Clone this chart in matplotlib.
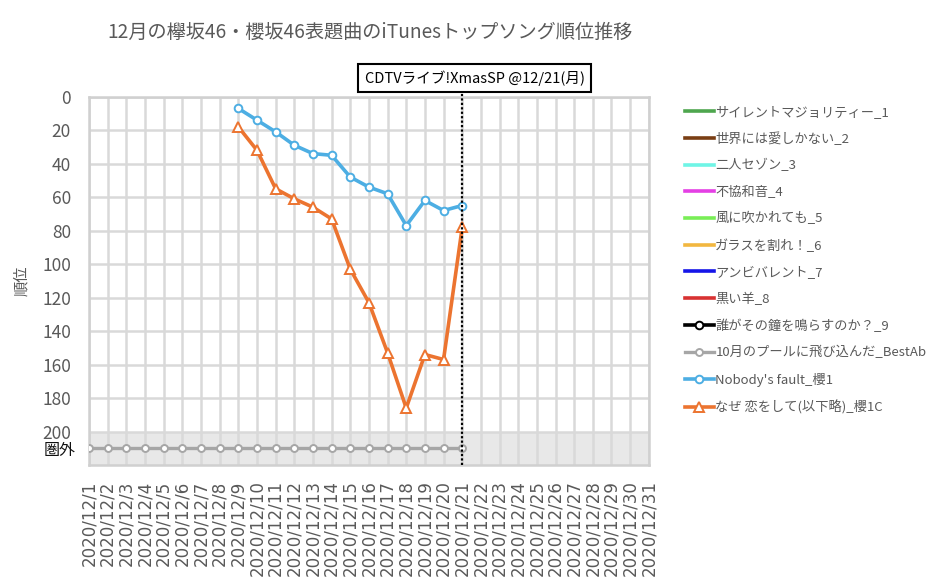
import numpy as np
import pandas as pd
import matplotlib
matplotlib.use('Agg')
import matplotlib.pyplot as plt
from matplotlib.ticker import FixedLocator, FixedFormatter

plt.rcParams['font.family'] = ['Noto Sans CJK JP', 'DejaVu Sans']

# December 2020, one point per day
days = list(range(1, 32))
day_labels = ['2020/12/%d' % d for d in days]

OUT = 210  # rank position used for "圏外" (out of chart)

# ranks per song (NaN = no data)
silent_majority = [np.nan] * 31
sekai_ai = [np.nan] * 31
futari_season = [np.nan] * 31
fukyowaon = [np.nan] * 31
kaze = [np.nan] * 31
glass = [np.nan] * 31
ambivalent = [np.nan] * 31
kuroi_hitsuji = [np.nan] * 31
dare_kane = [np.nan] * 31
october_pool = [OUT] * 21 + [np.nan] * 10
nobodys_fault = [np.nan] * 8 + [7, 14, 21, 29, 34, 35, 48, 54, 58, 77, 62, 68, 65] + [np.nan] * 10
naze_koi = [np.nan] * 8 + [18, 32, 55, 61, 66, 73, 103, 123, 153, 186, 154, 157, 78] + [np.nan] * 10

series = [
    ('サイレントマジョリティー_1', silent_majority, '#4EA64E', None),
    ('世界には愛しかない_2', sekai_ai, '#7A3E14', None),
    ('二人セゾン_3', futari_season, '#6FF5E6', None),
    ('不協和音_4', fukyowaon, '#E43FE4', None),
    ('風に吹かれても_5', kaze, '#79EE57', None),
    ('ガラスを割れ！_6', glass, '#F2B740', None),
    ('アンビバレント_7', ambivalent, '#1515E8', None),
    ('黒い羊_8', kuroi_hitsuji, '#D83232', None),
    ('誰がその鐘を鳴らすのか？_9', dare_kane, '#000000', 'o'),
    ('10月のプールに飛び込んだ_BestAb', october_pool, '#A6A6A6', 'o'),
    ("Nobody's fault_櫻1", nobodys_fault, '#4DAEE3', 'o'),
    ('なぜ 恋をして(以下略)_櫻1C', naze_koi, '#EC7430', '^'),
]

dates = pd.date_range('2020-12-01', '2020-12-31', freq='D')
x = np.arange(len(dates))

fig = plt.figure(figsize=(9.44, 5.86), dpi=100)
ax = fig.add_axes([0.0943, 0.2065, 0.593, 0.6285])

# out-of-chart band
ax.axhspan(200, 220, color='#E8E8E8', zorder=0, lw=0)

for name, vals, col, mk in series:
    lw = 2.6
    ms = 5.5
    if name.startswith('10月'):
        lw = 2.4
        ms = 5
    if mk == '^':
        ms = 7
    ax.plot(x, vals, color=col, lw=lw, marker=mk, ms=ms, mfc='white',
            mec=col, mew=1.4, label=name, zorder=3)

ax.set_xlim(0, 30)
ax.set_ylim(220, 0)

ax.set_xticks(x, labels=day_labels)
ax.tick_params(axis='x', labelrotation=90, labelsize=12, colors='#595959', length=0, pad=11,
               labelfontfamily='DejaVu Sans')
ax.set_yticks(list(range(0, 201, 20)))
ax.yaxis.set_minor_locator(FixedLocator([OUT]))
ax.yaxis.set_minor_formatter(FixedFormatter(['圏外']))

ax.tick_params(axis='y', which='major', labelsize=12.5, colors='#595959', length=0, pad=13)
ax.tick_params(axis='y', which='minor', labelsize=11.5, colors='#111111', length=0, pad=10)

ax.grid(True, which='major', color='#D9D9D9', lw=1.8, zorder=1)
ax.set_axisbelow(True)
for s in ax.spines.values():
    s.set_color('#D0D0D0')
    s.set_linewidth(1.8)

ax.set_ylabel('順位', fontsize=11, color='#595959', labelpad=9)

# event marker on 12/21
ev = 20
ax.axvline(ev, ymin=0, ymax=1.013, color='black', ls=(0, (1, 1)), lw=1.6,
           clip_on=False, zorder=4)
fig.text(0.503, 0.867, 'CDTVライブ!XmasSP @12/21(月)', ha='center', va='center',
         fontsize=10.5, color='black',
         bbox=dict(boxstyle='square,pad=0.45', fc='white', ec='black', lw=1.5))

fig.text(0.392, 0.945, '12月の欅坂46・櫻坂46表題曲のiTunesトップソング順位推移',
         ha='center', va='center', fontsize=13.8, color='#595959')

leg = fig.legend(loc='upper left', bbox_to_anchor=(0.713, 0.84), frameon=False,
                 fontsize=9.5, handlelength=2.2, handletextpad=0.1,
                 labelspacing=1.02, numpoints=1)
for t in leg.get_texts():
    t.set_color('#595959')

fig.savefig('out.png', dpi=100)
